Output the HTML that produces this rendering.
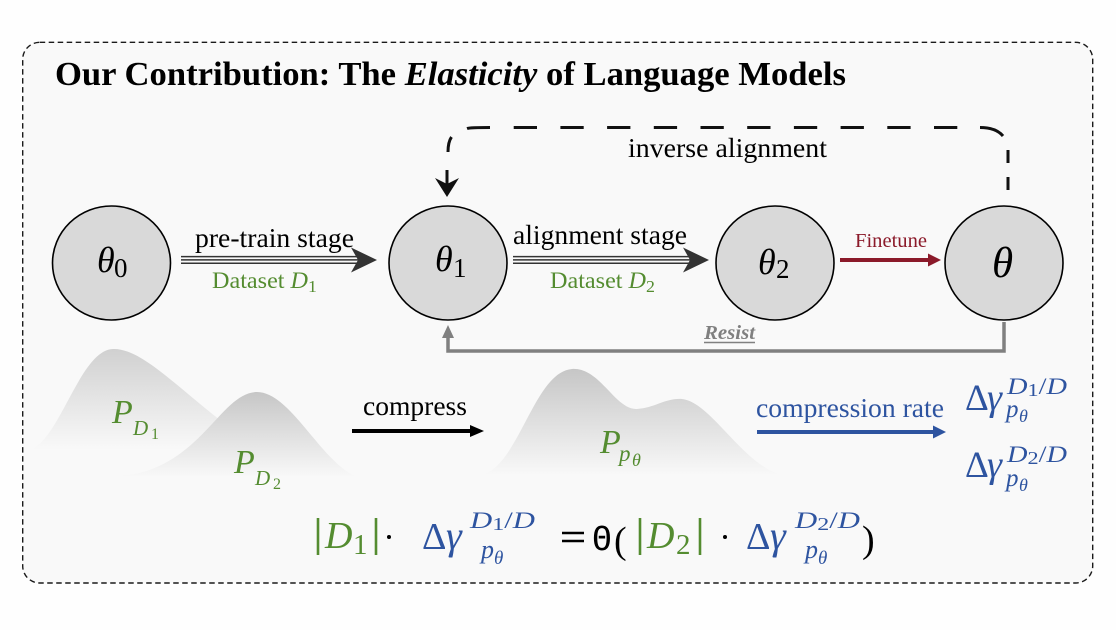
<!DOCTYPE html>
<html>
<head>
<meta charset="utf-8">
<style>
html,body{margin:0;padding:0;background:#fefefe;}
svg{display:block;}
text{font-family:"Liberation Serif","DejaVu Serif",serif;}
</style>
</head>
<body>
<svg width="1116" height="630" viewBox="0 0 1116 630" xmlns="http://www.w3.org/2000/svg">
<defs>
<linearGradient id="h1" x1="0" y1="0" x2="0" y2="1">
<stop offset="0" stop-color="#d0d0d0"/>
<stop offset="1" stop-color="#f9f9f9"/>
</linearGradient>
<linearGradient id="h2" x1="0" y1="0" x2="0" y2="1">
<stop offset="0" stop-color="#c6c6c6"/>
<stop offset="1" stop-color="#f8f8f8"/>
</linearGradient>
</defs>
<rect x="0" y="0" width="1116" height="630" fill="#fefefe"/>
<!-- outer dashed box -->
<rect x="22.7" y="42.3" width="1070" height="540.7" rx="17" ry="17" fill="#f9f9f9" stroke="#1a1a1a" stroke-width="1.4" stroke-dasharray="5.5 3.5"/>

<!-- title -->
<text x="55" y="85" font-weight="bold" font-size="34" fill="#000" textLength="791" lengthAdjust="spacingAndGlyphs">Our Contribution: The <tspan font-style="italic">Elasticity</tspan> of Language Models</text>

<!-- inverse alignment dashed path -->
<g stroke="#111" stroke-width="3" fill="none">
<line x1="1008" y1="190" x2="1008" y2="177"/>
<line x1="1008" y1="163" x2="1008" y2="150"/>
<path d="M 980 127.5 Q 996 127.5 1003 136"/>
<path d="M 467 128.5 Q 470 127.5 490 127.5"/>
<line x1="513.7" y1="127.5" x2="537" y2="127.5"/>
<line x1="560.4" y1="127.5" x2="583.7" y2="127.5"/>
<line x1="607.1" y1="127.5" x2="630.4" y2="127.5"/>
<line x1="653.8" y1="127.5" x2="677.1" y2="127.5"/>
<line x1="700.5" y1="127.5" x2="723.8" y2="127.5"/>
<line x1="747.2" y1="127.5" x2="770.5" y2="127.5"/>
<line x1="793.9" y1="127.5" x2="817.2" y2="127.5"/>
<line x1="840.6" y1="127.5" x2="863.9" y2="127.5"/>
<line x1="887.3" y1="127.5" x2="910.6" y2="127.5"/>
<line x1="934" y1="127.5" x2="957.3" y2="127.5"/>
<path d="M 448 152 Q 448 142 451.5 137"/>
<line x1="447" y1="170" x2="447" y2="186"/>
</g>
<polygon points="447,197 435,178 447,184 459,178" fill="#111"/>
<text x="628" y="157" font-size="27" fill="#000" textLength="199" lengthAdjust="spacingAndGlyphs">inverse alignment</text>

<!-- circles -->
<g fill="#d9d9d9" stroke="#000" stroke-width="1.6">
<ellipse cx="111.5" cy="263" rx="59" ry="57"/>
<ellipse cx="448" cy="263" rx="59" ry="57"/>
<ellipse cx="775" cy="263" rx="59" ry="57"/>
<ellipse cx="1004" cy="263" rx="59" ry="57"/>
</g>
<text x="97" y="272" font-size="36" font-style="italic">θ</text>
<text x="114" y="277" font-size="27">0</text>
<text x="435" y="271" font-size="36" font-style="italic">θ</text>
<text x="453" y="277" font-size="27">1</text>
<text x="758" y="274" font-size="36" font-style="italic">θ</text>
<text x="776" y="278" font-size="27">2</text>
<text x="992" y="277" font-size="43" font-style="italic">θ</text>

<!-- pre-train arrow -->
<g stroke="#333" stroke-width="1.5">
<line x1="181" y1="256.6" x2="362" y2="256.6"/>
<line x1="181" y1="259.9" x2="362" y2="259.9"/>
<line x1="181" y1="263.2" x2="362" y2="263.2"/>
</g>
<polygon points="377,260 351,247.5 358,260 351,272.5" fill="#333"/>
<text x="195" y="247" font-size="27" textLength="159" lengthAdjust="spacingAndGlyphs">pre-train stage</text>
<text x="212" y="288" font-size="23" fill="#548c30" textLength="105" lengthAdjust="spacingAndGlyphs">Dataset <tspan font-style="italic">D</tspan><tspan font-size="17" dy="4">1</tspan></text>

<!-- alignment arrow -->
<g stroke="#333" stroke-width="1.5">
<line x1="513" y1="256.6" x2="694" y2="256.6"/>
<line x1="513" y1="259.9" x2="694" y2="259.9"/>
<line x1="513" y1="263.2" x2="694" y2="263.2"/>
</g>
<polygon points="709,260 683,247.5 690,260 683,272.5" fill="#333"/>
<text x="513" y="244" font-size="27" textLength="174" lengthAdjust="spacingAndGlyphs">alignment stage</text>
<text x="550" y="288" font-size="23" fill="#548c30" textLength="105" lengthAdjust="spacingAndGlyphs">Dataset <tspan font-style="italic">D</tspan><tspan font-size="17" dy="4">2</tspan></text>

<!-- finetune -->
<line x1="840" y1="260" x2="930" y2="260" stroke="#8b1a2a" stroke-width="4"/>
<polygon points="941,260 928,253.5 928,266.5" fill="#8b1a2a"/>
<text x="855" y="247" font-size="20" fill="#8b1a2a" textLength="72" lengthAdjust="spacingAndGlyphs">Finetune</text>

<!-- resist -->
<polyline points="1004,322 1004,351 448,351 448,336" fill="none" stroke="#808080" stroke-width="3.5"/>
<polygon points="448,325 442,338 454,338" fill="#808080"/>
<text x="704" y="339" font-size="20" font-weight="bold" font-style="italic" fill="#808080" textLength="51" lengthAdjust="spacingAndGlyphs">Resist</text>
<line x1="704" y1="342.5" x2="755" y2="342.5" stroke="#808080" stroke-width="1.4"/>

<!-- hills -->
<path d="M 30 450 C 60 440, 80 350, 113 349 C 140 348, 175 385, 220 420 C 250 440, 280 450, 320 450 Z" fill="url(#h1)"/>
<path d="M 120 476 C 200 470, 220 392, 257 392 C 290 392, 320 460, 355 476 Z" fill="url(#h2)"/>
<path d="M 485 474 C 520 460, 535 372, 572 369 C 600 367, 615 410, 637 409 C 655 408, 665 398, 682 399 C 710 402, 740 460, 778 474 Z" fill="url(#h2)"/>

<!-- distribution labels -->
<text x="112" y="423" font-size="34" font-style="italic" fill="#548c30">P</text>
<text x="133" y="435" font-size="21" font-style="italic" fill="#548c30">D</text>
<text x="151" y="439" font-size="16" fill="#548c30">1</text>
<text x="234" y="473" font-size="34" font-style="italic" fill="#548c30">P</text>
<text x="255" y="485" font-size="21" font-style="italic" fill="#548c30">D</text>
<text x="273" y="489" font-size="16" fill="#548c30">2</text>
<text x="600" y="453" font-size="34" font-style="italic" fill="#548c30">P</text>
<text x="619" y="461" font-size="23" font-style="italic" fill="#548c30">p</text>
<text x="632" y="466" font-size="18" font-style="italic" fill="#548c30">θ</text>

<!-- compress -->
<text x="363" y="415" font-size="27" textLength="104" lengthAdjust="spacingAndGlyphs">compress</text>
<line x1="352" y1="431" x2="472" y2="431" stroke="#000" stroke-width="4"/>
<polygon points="484,431 470,425 470,437" fill="#000"/>

<!-- compression rate -->
<text x="756" y="417" font-size="27" fill="#2e54a0" textLength="188" lengthAdjust="spacingAndGlyphs">compression rate</text>
<line x1="757" y1="432" x2="935" y2="432" stroke="#2e54a0" stroke-width="4"/>
<polygon points="946,432 933,425.5 933,438.5" fill="#2e54a0"/>

<!-- right formulas -->
<g fill="#2e54a0">
<text x="965" y="410" font-size="37">Δ</text>
<text x="987" y="410" font-size="38" font-style="italic">γ</text>
<text x="1007" y="394" font-size="23" textLength="60" lengthAdjust="spacingAndGlyphs"><tspan font-style="italic">D</tspan><tspan font-size="18" dy="2">1</tspan><tspan dy="-2">/</tspan><tspan font-style="italic">D</tspan></text>
<text x="1006" y="417" font-size="25" font-style="italic">p</text>
<text x="1019" y="422" font-size="18" font-style="italic">θ</text>

<text x="965" y="477" font-size="37">Δ</text>
<text x="987" y="477" font-size="38" font-style="italic">γ</text>
<text x="1007" y="462" font-size="23" textLength="60" lengthAdjust="spacingAndGlyphs"><tspan font-style="italic">D</tspan><tspan font-size="18" dy="2">2</tspan><tspan dy="-2">/</tspan><tspan font-style="italic">D</tspan></text>
<text x="1006" y="486" font-size="25" font-style="italic">p</text>
<text x="1019" y="491" font-size="18" font-style="italic">θ</text>
</g>

<!-- bottom formula -->
<g stroke="#548c30" stroke-width="2.6">
<line x1="318" y1="518" x2="318" y2="555"/>
<line x1="376" y1="518" x2="376" y2="555"/>
<line x1="640" y1="518" x2="640" y2="555"/>
<line x1="700" y1="518" x2="700" y2="555"/>
</g>
<text x="325" y="548" font-size="38" font-style="italic" fill="#548c30">D</text>
<text x="353" y="554" font-size="29" fill="#548c30">1</text>
<text x="647" y="548" font-size="38" font-style="italic" fill="#548c30">D</text>
<text x="676" y="554" font-size="29" fill="#548c30">2</text>
<circle cx="389" cy="537" r="2" fill="#000"/>
<circle cx="725" cy="537" r="2" fill="#000"/>

<g fill="#2e54a0">
<text x="422" y="549" font-size="38">Δ</text>
<text x="446" y="549" font-size="40" font-style="italic">γ</text>
<text x="470" y="528" font-size="23" textLength="65" lengthAdjust="spacingAndGlyphs"><tspan font-style="italic">D</tspan><tspan font-size="18" dy="2">1</tspan><tspan dy="-2">/</tspan><tspan font-style="italic">D</tspan></text>
<text x="481" y="558" font-size="26" font-style="italic">p</text>
<text x="494" y="564" font-size="19" font-style="italic">θ</text>

<text x="746" y="549" font-size="38">Δ</text>
<text x="770" y="549" font-size="40" font-style="italic">γ</text>
<text x="795" y="528" font-size="23" textLength="65" lengthAdjust="spacingAndGlyphs"><tspan font-style="italic">D</tspan><tspan font-size="18" dy="2">2</tspan><tspan dy="-2">/</tspan><tspan font-style="italic">D</tspan></text>
<text x="805" y="558" font-size="26" font-style="italic">p</text>
<text x="818" y="564" font-size="19" font-style="italic">θ</text>
</g>

<g stroke="#000" stroke-width="2.4">
<line x1="562" y1="533" x2="584" y2="533"/>
<line x1="562" y1="541" x2="584" y2="541"/>
</g>
<text x="592" y="550" font-size="33" style="font-family:'DejaVu Sans Mono',monospace">Θ</text>
<text x="614" y="553" font-size="38" fill="#000">(</text>
<text x="862" y="552" font-size="38" fill="#000">)</text>
</svg>
</body>
</html>
